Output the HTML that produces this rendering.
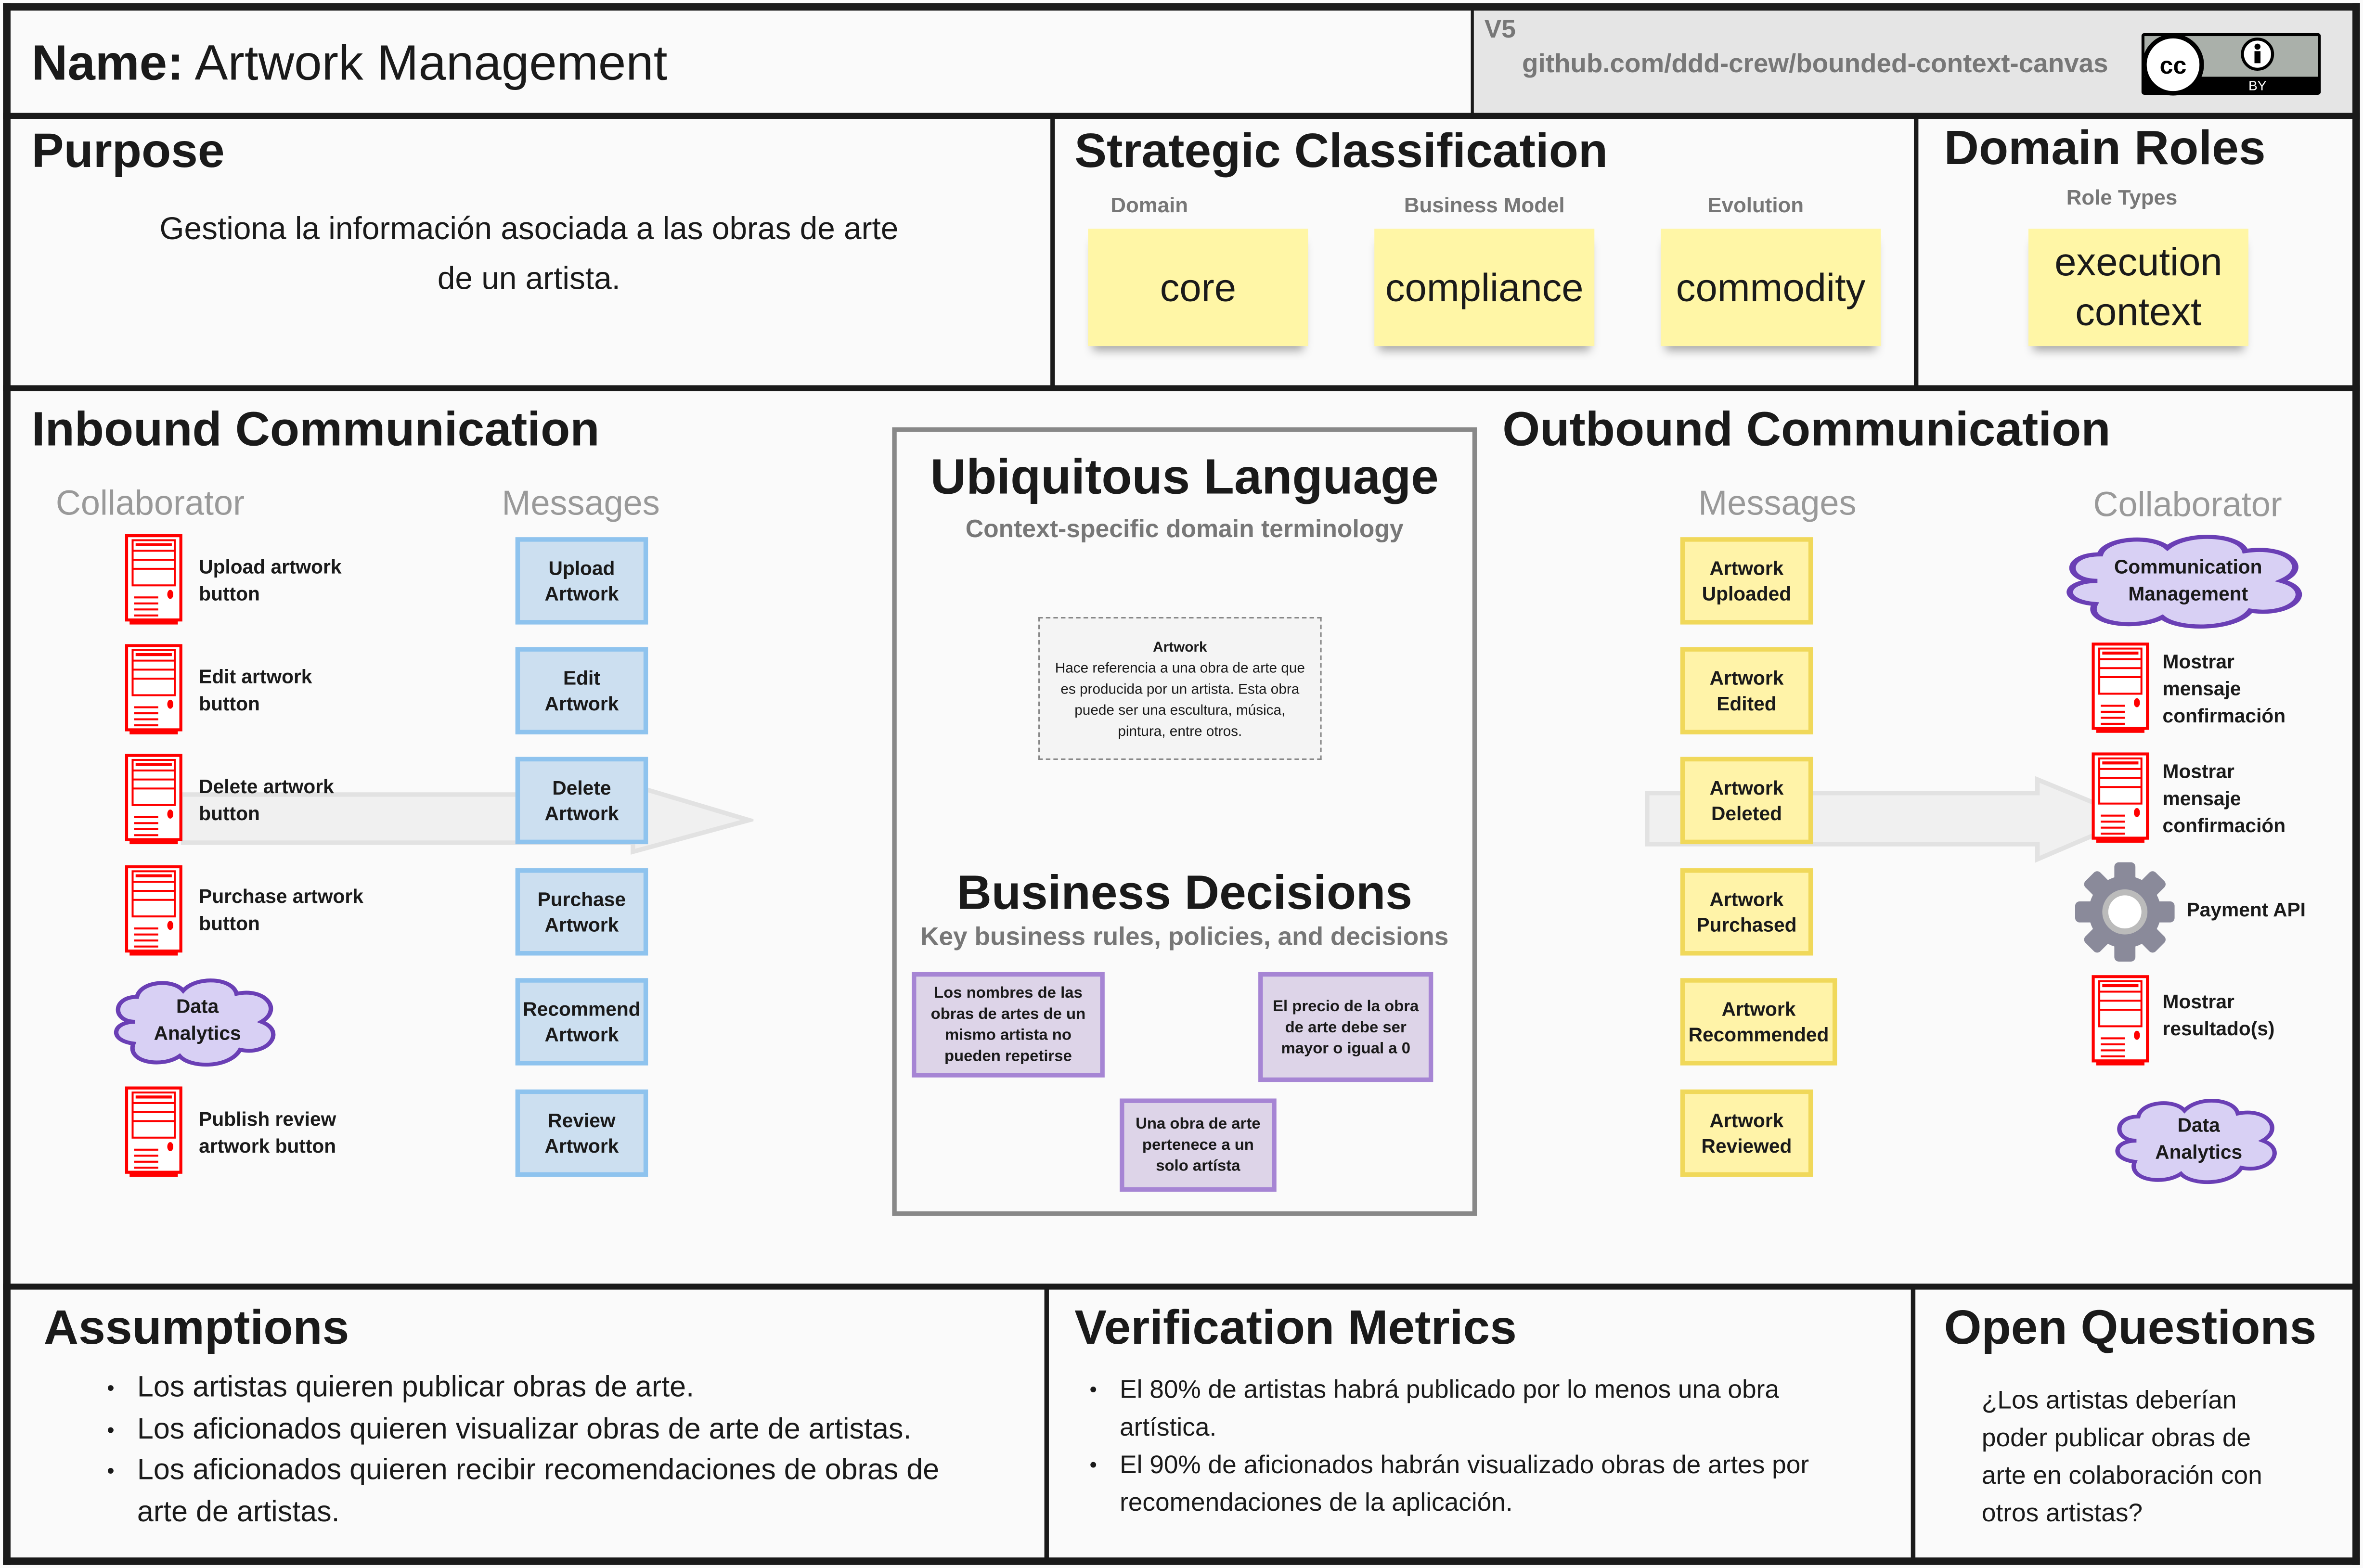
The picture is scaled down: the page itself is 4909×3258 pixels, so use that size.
<!DOCTYPE html>
<html><head><meta charset="utf-8">
<style>
html,body{margin:0;padding:0;background:#fafafa;overflow:hidden;}
#wrap{width:4909px;height:3258px;position:relative;overflow:hidden;background:#fafafa;}
#c{position:absolute;left:0;top:0;width:1568px;height:1042px;transform-origin:0 0;transform:scale(3.1307,3.1267);font-family:"Liberation Sans",sans-serif;color:#1a1a1a;}
.a{position:absolute;}
.ln{position:absolute;background:#1a1a1a;}
.h{position:absolute;font-weight:bold;font-size:32px;white-space:nowrap;}
.sub{position:absolute;font-weight:bold;color:#777;font-size:14px;white-space:nowrap;text-align:center;}
.sub2{position:absolute;color:#999;font-size:23px;white-space:nowrap;}
.sticky{position:absolute;background:#fff6a6;width:146px;height:78px;display:flex;align-items:center;justify-content:center;text-align:center;font-size:26px;line-height:33px;box-shadow:0 6px 6px -3px rgba(0,0,0,0.35);}
.bm{position:absolute;left:342px;width:82px;height:52px;background:#ccdff0;border:3px solid #8ec3ee;display:flex;align-items:center;justify-content:center;text-align:center;font-weight:bold;font-size:13px;line-height:17px;}
.ym{position:absolute;left:1115px;width:82px;height:52px;background:#fff3a8;border:3px solid #f0d85a;display:flex;align-items:center;justify-content:center;text-align:center;font-weight:bold;font-size:13px;line-height:17px;}
.lbl{position:absolute;font-weight:bold;font-size:13px;line-height:18px;}
.pm{position:absolute;background:#ddd4e8;border:3px solid #a685d4;display:flex;align-items:center;justify-content:center;text-align:center;font-weight:bold;font-size:10.5px;line-height:14px;}
ul{margin:0;padding-left:0;list-style:none;}
li{position:relative;padding-left:0;}
li:before{content:"•";position:absolute;left:-20px;font-size:14px;}
</style></head><body><div id="wrap"><div id="c">
<svg width="0" height="0" style="position:absolute">
<defs>
<g id="srv">
<rect x="1" y="1" width="36" height="56" fill="#fff" stroke="#f00" stroke-width="2"/>
<rect x="5" y="4" width="28" height="30" fill="none" stroke="#f00" stroke-width="1.3"/>
<line x1="5" y1="11" x2="33" y2="11" stroke="#f00" stroke-width="1.3"/>
<line x1="5" y1="17" x2="33" y2="17" stroke="#f00" stroke-width="1.3"/>
<line x1="5" y1="23" x2="33" y2="23" stroke="#f00" stroke-width="1.3"/>
<rect x="7" y="6" width="24" height="2" fill="#f00"/>
<ellipse cx="30" cy="40" rx="2" ry="3" fill="#f00"/>
<line x1="6" y1="42" x2="22" y2="42" stroke="#f00" stroke-width="1.3"/>
<line x1="6" y1="46" x2="22" y2="46" stroke="#f00" stroke-width="1.3"/>
<line x1="6" y1="50" x2="22" y2="50" stroke="#f00" stroke-width="1.3"/>
<line x1="6" y1="54" x2="22" y2="54" stroke="#f00" stroke-width="1.3"/>
<rect x="3" y="57" width="32" height="3" fill="#f00"/>
</g>
<path id="cloud" d="M15,30 C2,30 2,14 16,14 C18,4 36,2 42,10 C50,0 70,2 72,12 C88,8 98,22 86,30 C100,36 90,52 74,48 C68,60 46,60 40,52 C30,60 10,56 14,44 C0,42 2,30 15,30 Z" fill="#d8d0f4" stroke="#6a3fb5" stroke-width="2.5"/>
</defs></svg>

<div class="a" style="left:978px;top:6px;width:586px;height:71px;background:#e5e5e5;"></div>
<div class="ln" style="left:2px;top:2px;width:1564px;height:5px;"></div>
<div class="ln" style="left:2px;top:1035px;width:1564px;height:5px;"></div>
<div class="ln" style="left:2px;top:2px;width:5px;height:1038px;"></div>
<div class="ln" style="left:1561px;top:2px;width:5px;height:1038px;"></div>
<div class="ln" style="left:2px;top:75px;width:1564px;height:4px;"></div>
<div class="ln" style="left:2px;top:256px;width:1564px;height:4px;"></div>
<div class="ln" style="left:2px;top:853px;width:1564px;height:4px;"></div>
<div class="ln" style="left:976px;top:6px;width:2px;height:71px;"></div>
<div class="ln" style="left:697px;top:77px;width:3px;height:181px;"></div>
<div class="ln" style="left:1270px;top:77px;width:3px;height:181px;"></div>
<div class="ln" style="left:693px;top:855px;width:3px;height:182px;"></div>
<div class="ln" style="left:1268px;top:855px;width:3px;height:182px;"></div>

<div class="a" style="left:21px;top:23px;font-size:33px;white-space:nowrap;"><b>Name:</b> Artwork Management</div>
<div class="a" style="left:985px;top:10px;font-size:17px;font-weight:bold;color:#777;">V5</div>
<div class="a" style="left:1010px;top:32px;font-size:17.5px;font-weight:bold;color:#777;white-space:nowrap;">github.com/ddd-crew/bounded-context-canvas</div>
<svg class="a" style="left:1421px;top:22px" width="120" height="42">
<rect x="0" y="0" width="119" height="41" fill="#000" rx="2"/>
<rect x="2" y="2" width="115" height="27" fill="#aab0aa"/>
<circle cx="21" cy="21" r="19" fill="#fff" stroke="#000" stroke-width="3"/>
<text x="21" y="27" font-family="Liberation Sans" font-weight="bold" font-size="16" text-anchor="middle">cc</text>
<circle cx="77" cy="14" r="10" fill="#fff" stroke="#000" stroke-width="2"/>
<circle cx="77" cy="9" r="2" fill="#000"/><rect x="75" y="12" width="4" height="8" fill="#000"/>
<text x="77" y="38" font-family="Liberation Sans" font-size="9" fill="#fff" text-anchor="middle">BY</text>
</svg>

<div class="h" style="left:21px;top:82px;">Purpose</div>
<div class="a" style="left:95px;top:136px;width:512px;text-align:center;font-size:21px;line-height:33px;">Gestiona la información asociada a las obras de arte de un artista.</div>

<div class="h" style="left:713px;top:82px;">Strategic Classification</div>
<div class="sub" style="left:722px;top:128px;width:90px;text-align:left;padding-left:15px;">Domain</div>
<div class="sub" style="left:912px;top:128px;width:146px;">Business Model</div>
<div class="sub" style="left:1102px;top:128px;width:126px;">Evolution</div>
<div class="sticky" style="left:722px;top:152px;">core</div>
<div class="sticky" style="left:912px;top:152px;">compliance</div>
<div class="sticky" style="left:1102px;top:152px;">commodity</div>

<div class="h" style="left:1290px;top:80px;">Domain Roles</div>
<div class="sub" style="left:1346px;top:123px;width:124px;">Role Types</div>
<div class="sticky" style="left:1346px;top:152px;">execution<br>context</div>

<div class="h" style="left:21px;top:267px;">Inbound Communication</div>
<div class="sub2" style="left:37px;top:321px;">Collaborator</div>
<div class="sub2" style="left:333px;top:321px;">Messages</div>
<svg class="a" style="left:120px;top:520px" width="380" height="50"><polygon points="0,8 300,8 300,2 377,25 300,46 300,40 0,40" fill="#f0f0f0" stroke="#e2e2e2" stroke-width="3"/></svg>

<svg class="a" style="left:83px;top:355px" width="40" height="62"><use href="#srv"/></svg>
<svg class="a" style="left:83px;top:428px" width="40" height="62"><use href="#srv"/></svg>
<svg class="a" style="left:83px;top:501px" width="40" height="62"><use href="#srv"/></svg>
<svg class="a" style="left:83px;top:575px" width="40" height="62"><use href="#srv"/></svg>
<svg class="a" style="left:83px;top:722px" width="40" height="62"><use href="#srv"/></svg>
<div class="lbl" style="left:132px;top:368px;">Upload artwork<br>button</div>
<div class="lbl" style="left:132px;top:441px;">Edit artwork<br>button</div>
<div class="lbl" style="left:132px;top:514px;">Delete artwork<br>button</div>
<div class="lbl" style="left:132px;top:587px;">Purchase artwork<br>button</div>
<div class="lbl" style="left:132px;top:735px;">Publish review<br>artwork button</div>
<svg class="a" style="left:72px;top:648px" width="118" height="62" viewBox="0 0 100 60" preserveAspectRatio="none"><use href="#cloud"/></svg>
<div class="lbl" style="left:72px;top:660px;width:118px;text-align:center;">Data<br>Analytics</div>

<div class="bm" style="top:357px;">Upload<br>Artwork</div>
<div class="bm" style="top:430px;">Edit<br>Artwork</div>
<div class="bm" style="top:503px;">Delete<br>Artwork</div>
<div class="bm" style="top:577px;">Purchase<br>Artwork</div>
<div class="bm" style="top:650px;">Recommend<br>Artwork</div>
<div class="bm" style="top:724px;">Review<br>Artwork</div>

<div class="a" style="left:592px;top:284px;width:382px;height:518px;border:3px solid #888;"></div>
<div class="a" style="left:592px;top:298px;width:388px;text-align:center;font-weight:bold;font-size:33px;">Ubiquitous Language</div>
<div class="a" style="left:592px;top:343px;width:388px;text-align:center;font-weight:bold;font-size:16.5px;color:#777;">Context-specific domain terminology</div>
<div class="a" style="left:689px;top:410px;width:188px;height:95px;border:1px dashed #888;background:#f4f4f4;text-align:center;font-size:9.5px;line-height:14px;padding:13px 6px 0;box-sizing:border-box;"><b>Artwork</b><br>Hace referencia a una obra de arte que es producida por un artista. Esta obra puede ser una escultura, música, pintura, entre otros.</div>
<div class="a" style="left:592px;top:575px;width:388px;text-align:center;font-weight:bold;font-size:32px;">Business Decisions</div>
<div class="a" style="left:592px;top:613px;width:388px;text-align:center;font-weight:bold;font-size:17px;color:#777;">Key business rules, policies, and decisions</div>
<div class="pm" style="left:605px;top:646px;width:122px;height:64px;">Los nombres de las obras de artes de un mismo artista no pueden repetirse</div>
<div class="pm" style="left:835px;top:646px;width:110px;height:67px;">El precio de la obra de arte debe ser mayor o igual a 0</div>
<div class="pm" style="left:743px;top:730px;width:98px;height:56px;">Una obra de arte pertenece a un solo artísta</div>

<div class="h" style="left:997px;top:267px;">Outbound Communication</div>
<div class="sub2" style="left:1127px;top:321px;">Messages</div>
<div class="sub2" style="left:1389px;top:322px;">Collaborator</div>
<svg class="a" style="left:1090px;top:515px" width="330" height="60"><polygon points="3,12 262,12 262,3 325,29 262,56 262,46 3,46" fill="#f0f0f0" stroke="#e2e2e2" stroke-width="3"/></svg>
<div class="ym" style="top:357px;">Artwork<br>Uploaded</div>
<div class="ym" style="top:430px;">Artwork<br>Edited</div>
<div class="ym" style="top:503px;">Artwork<br>Deleted</div>
<div class="ym" style="top:577px;">Artwork<br>Purchased</div>
<div class="ym" style="top:650px;width:98px;">Artwork<br>Recommended</div>
<div class="ym" style="top:724px;">Artwork<br>Reviewed</div>

<svg class="a" style="left:1366px;top:353px" width="172" height="66" viewBox="0 0 100 60" preserveAspectRatio="none"><use href="#cloud"/></svg>
<div class="lbl" style="left:1366px;top:368px;width:172px;text-align:center;">Communication<br>Management</div>
<svg class="a" style="left:1388px;top:427px" width="40" height="62"><use href="#srv"/></svg>
<svg class="a" style="left:1388px;top:500px" width="40" height="62"><use href="#srv"/></svg>
<svg class="a" style="left:1388px;top:648px" width="40" height="62"><use href="#srv"/></svg>
<div class="lbl" style="left:1435px;top:431px;">Mostrar<br>mensaje<br>confirmación</div>
<div class="lbl" style="left:1435px;top:504px;">Mostrar<br>mensaje<br>confirmación</div>
<div class="lbl" style="left:1435px;top:657px;">Mostrar<br>resultado(s)</div>
<svg class="a" style="left:1376px;top:572px" width="68" height="68" viewBox="-34 -34 68 68">
<g fill="#8a8a9a">
<circle r="24"/>
<rect x="-7" y="-33" width="14" height="66" rx="3"/>
<rect x="-7" y="-33" width="14" height="66" rx="3" transform="rotate(45)"/>
<rect x="-7" y="-33" width="14" height="66" rx="3" transform="rotate(90)"/>
<rect x="-7" y="-33" width="14" height="66" rx="3" transform="rotate(135)"/>
</g>
<circle r="15" fill="#bbb"/><circle r="11" fill="#fff"/>
</svg>
<div class="lbl" style="left:1451px;top:596px;">Payment API</div>
<svg class="a" style="left:1400px;top:728px" width="118" height="60" viewBox="0 0 100 60" preserveAspectRatio="none"><use href="#cloud"/></svg>
<div class="lbl" style="left:1400px;top:739px;width:118px;text-align:center;">Data<br>Analytics</div>

<div class="h" style="left:29px;top:864px;">Assumptions</div>
<ul class="a" style="left:91px;top:909px;width:555px;font-size:19.5px;line-height:27.5px;">
<li>Los artistas quieren publicar obras de arte.</li>
<li>Los aficionados quieren visualizar obras de arte de artistas.</li>
<li>Los aficionados quieren recibir recomendaciones de obras de arte de artistas.</li>
</ul>
<div class="h" style="left:713px;top:864px;">Verification Metrics</div>
<ul class="a" style="left:743px;top:911px;width:490px;font-size:17px;line-height:25px;">
<li>El 80% de artistas habrá publicado por lo menos una obra artística.</li>
<li>El 90% de aficionados habrán visualizado obras de artes por recomendaciones de la aplicación.</li>
</ul>
<div class="h" style="left:1290px;top:864px;">Open Questions</div>
<div class="a" style="left:1315px;top:918px;width:190px;font-size:17px;line-height:25px;">¿Los artistas deberían poder publicar obras de arte en colaboración con otros artistas?</div>
</div></div></body></html>
